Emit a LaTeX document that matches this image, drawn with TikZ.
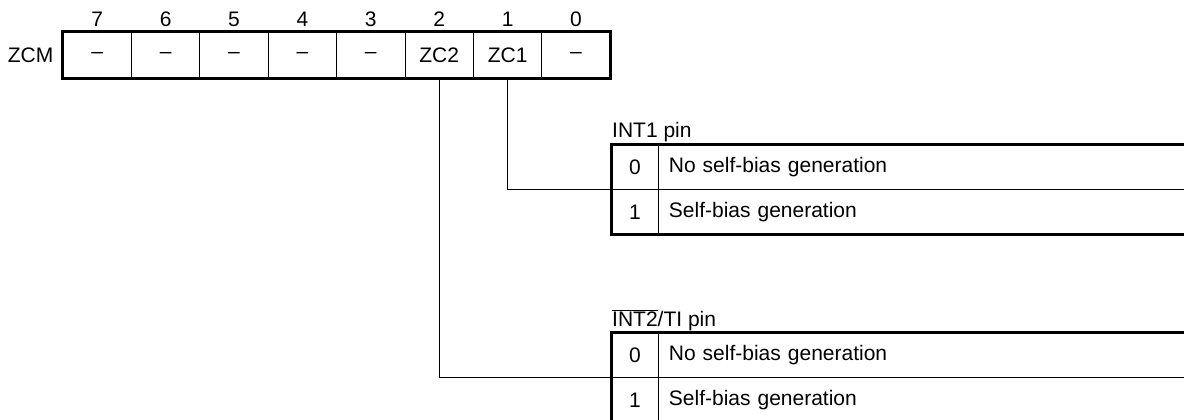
\documentclass[tikz,border=0pt]{standalone}
\usepackage{fontspec}
\setmainfont{Liberation Sans}
\usetikzlibrary{positioning}

\tikzset{
  thin line/.style={line width=0.9pt},
  thick line/.style={line width=2.6pt},
  regcell/.style={draw, thin line, minimum width=68.4pt, minimum height=46pt},
  valcell/.style={draw, thin line, minimum width=46pt, minimum height=44pt},
  desccell/.style={draw, thin line, minimum width=560pt, minimum height=44pt,
    text width=540pt, inner xsep=10pt, align=left}
}

\begin{document}
\begin{tikzpicture}[x=1pt, y=-1pt, every node/.style={font=\fontsize{21}{23}\selectfont, inner sep=0pt}]
    \useasboundingbox (0,0) rectangle (1184,420);

    % Registro
    \foreach \t [count=\i from 0] in {--,--,--,--,--,ZC2,ZC1,--} {
        \pgfmathtruncatemacro\bit{7-\i}
        \node[regcell] (b\bit) at (97.2+68.4*\i,55) {\t};
        \node (n\bit) at (97.2+68.4*\i,19) {\bit};
    }
    \draw[thick line] (b7.north west) rectangle (b0.south east);
    \node[left=9pt of b7] (zcm) {ZCM};

    % INT1
    \node[valcell] (p0) at (635,167) {0};
    \node[valcell, below=0pt of p0] (p1) {1};
    \node[desccell, right=0pt of p0] (d0) {No self-bias generation};
    \node[desccell, right=0pt of p1] (d1) {Self-bias generation};
    \draw[thick line] (p0.north west) rectangle (d1.south east);
    \node[anchor=base west] (lab1) at (612,137) {INT1 pin};

    % INT2/TI
    \node[valcell] (q0) at (635,355) {0};
    \node[valcell, below=0pt of q0] (q1) {1};
    \node[desccell, right=0pt of q0] (e0) {No self-bias generation};
    \node[desccell, right=0pt of q1] (e1) {Self-bias generation};
    \draw[thick line] (q0.north west) rectangle (e1.south east);
    \node[anchor=base west] (lab2) at (612,326) {$\overline{\mbox{INT2}}$/TI pin};

    % Collegamenti
    \draw[thin line] (b1.south) |- (p0.south west);
    \draw[thin line] (b2.south) |- (q0.south west);
\end{tikzpicture}
\end{document}
